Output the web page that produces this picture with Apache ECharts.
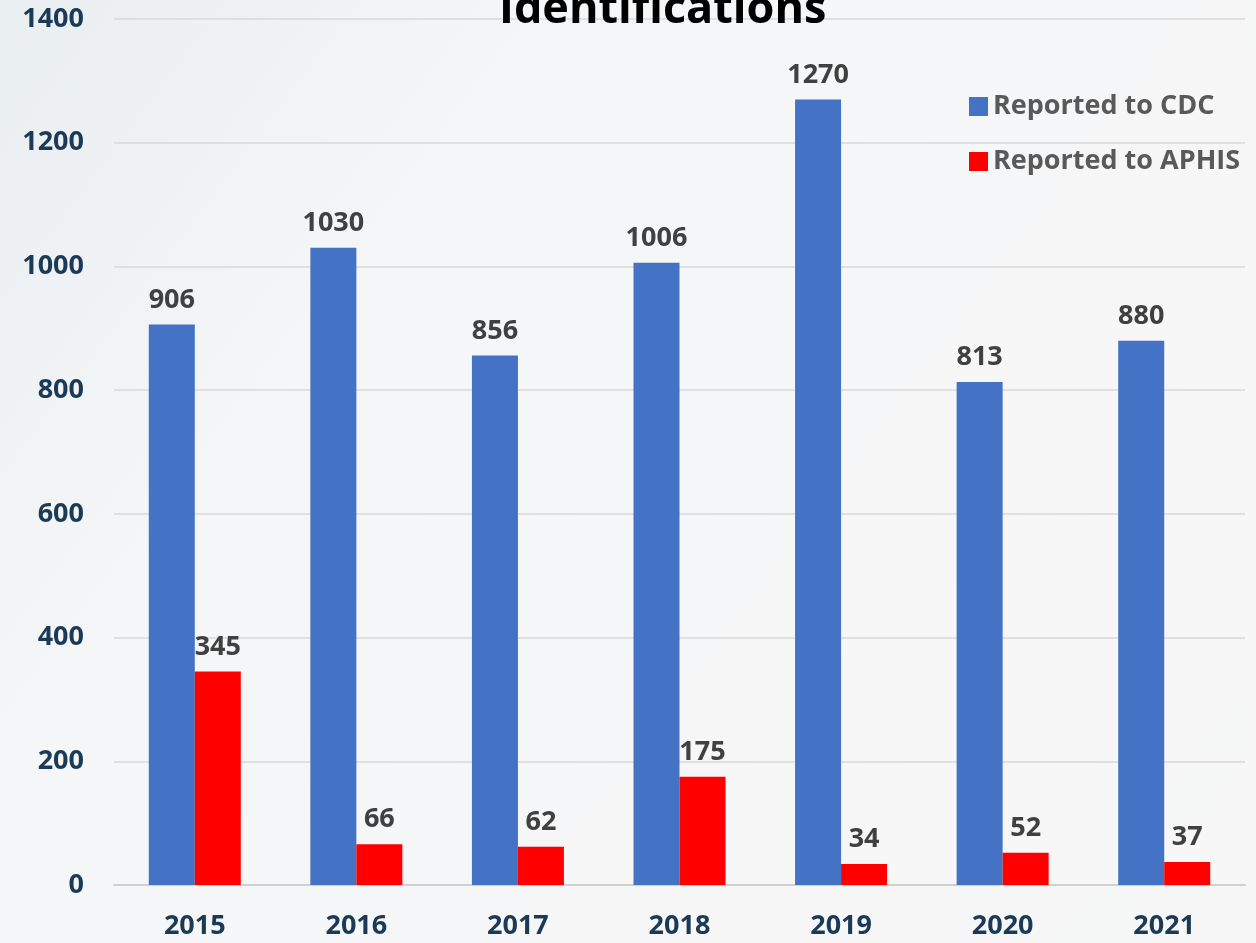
<!DOCTYPE html>
<html>
<head>
<meta charset="utf-8">
<script src="https://cdn.jsdelivr.net/npm/echarts@6/dist/echarts.min.js"></script>
<style>
  html, body { margin: 0; padding: 0; }
  #chart { width: 1256px; height: 943px; }
</style>
</head>
<body>
<div id="chart"></div>
<script>
const years = ['2015', '2016', '2017', '2018', '2019', '2020', '2021'];
const cdcValues = [906, 1030, 856, 1006, 1270, 813, 880];
const aphisValues = [345, 66, 62, 175, 34, 52, 37];
const yTicks = { min: 0, max: 1400, interval: 200 };

const font = '"Open Sans", "Noto Sans", sans-serif';
const labelStyle = {
  show: true,
  position: 'top',
  distance: 11,
  color: '#404040',
  fontFamily: font,
  fontWeight: 'bold',
  fontSize: 27
};

const chart = echarts.init(document.getElementById('chart'));
chart.setOption({
  backgroundColor: {
    type: 'linear', x: 0, y: 0, x2: 1, y2: 1,
    colorStops: [
      { offset: 0, color: '#e9eef1' },
      { offset: 0.3, color: '#f5f6f7' },
      { offset: 1, color: '#f7f7f7' }
    ]
  },
  title: {
    text: 'Identifications',
    left: 494,
    top: -17,
    textStyle: { color: '#000', fontFamily: font, fontWeight: 'bold', fontSize: 45 }
  },
  legend: {
    orient: 'vertical',
    left: 964,
    top: 88,
    itemWidth: 19,
    itemHeight: 19,
    itemGap: 28,
    icon: 'rect',
    textStyle: { color: '#595959', fontFamily: font, fontWeight: 'bold', fontSize: 27 }
  },
  grid: { left: 114, right: 11, top: 19, bottom: 58, containLabel: false },
  xAxis: {
    type: 'category',
    data: years,
    axisTick: { show: false },
    axisLine: { lineStyle: { color: '#d0d0d0', width: 2 } },
    axisLabel: { color: '#1b3a57', fontFamily: font, fontWeight: 'bold', fontSize: 27, margin: 28 }
  },
  yAxis: {
    type: 'value',
    min: yTicks.min,
    max: yTicks.max,
    interval: yTicks.interval,
    axisLabel: {
      color: '#1b3a57', fontFamily: font, fontWeight: 'bold', fontSize: 27, margin: 30,
      formatter: v => String(v)
    },
    splitLine: { lineStyle: { color: '#d9d9d9', width: 1.5 } }
  },
  series: [
    {
      name: 'Reported to CDC',
      type: 'bar',
      data: cdcValues,
      barWidth: 46,
      barGap: '0%',
      itemStyle: { color: '#4472c4' },
      label: labelStyle
    },
    {
      name: 'Reported to APHIS',
      type: 'bar',
      data: aphisValues,
      barWidth: 46,
      barGap: '0%',
      itemStyle: { color: '#ff0000' },
      label: labelStyle
    }
  ]
});
</script>
</body>
</html>
